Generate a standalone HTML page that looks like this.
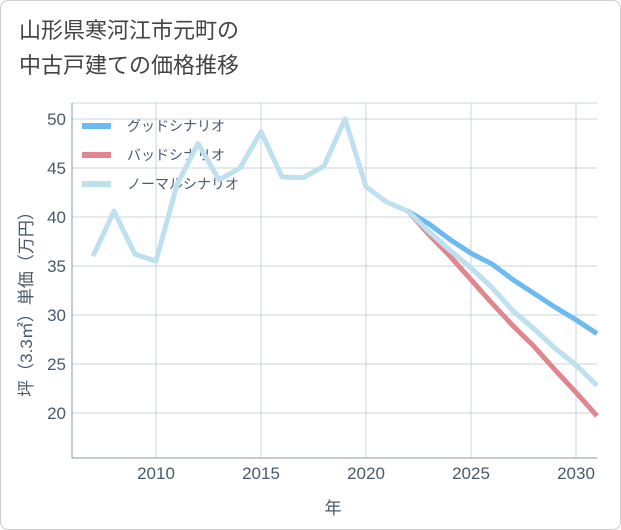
<!DOCTYPE html>
<html><head><meta charset="utf-8"><style>
body{margin:0;background:#fff;}
#wrap{position:relative;width:619px;height:528px;border:1px solid #ccc;border-radius:8px;background:#fff;overflow:hidden;font-family:"Liberation Sans","Noto Sans CJK JP",sans-serif;}
h1{position:absolute;left:18px;top:12px;margin:0;font-size:22px;font-weight:normal;color:#444;line-height:35px;}
</style></head><body>
<div id="wrap">
<h1>山形県寒河江市元町の<br>中古戸建ての価格推移</h1>
<svg id="c" width="621" height="530" style="position:absolute;left:-1px;top:-1px"></svg>
</div>
<script>
const years=[2007,2008,2009,2010,2011,2012,2013,2014,2015,2016,2017,2018,2019,2020,2021,2022,2023,2024,2025,2026,2027,2028,2029,2030,2031];
const normal=[36,40.6,36.2,35.5,43.3,47.5,43.8,45,48.7,44.1,44,45.2,50,43.1,41.5,40.6,38.5,36.6,34.8,32.8,30.4,28.6,26.6,24.9,22.8];
const goodYears=[2022,2023,2024,2025,2026,2027,2028,2029,2030,2031];
const good=[40.6,39.3,37.7,36.3,35.2,33.6,32.2,30.8,29.5,28.1];
const bad=[40.6,38.2,36.0,33.6,31.2,28.9,26.8,24.4,22.1,19.7];
const xTicks=[2010,2015,2020,2025,2030];
const yTicks=[20,25,30,35,40,45,50];
const NS='http://www.w3.org/2000/svg';
const svg=document.getElementById('c');
const X=y=>72+(y-2006)*21;
const Y=v=>119+(50-v)*9.8;
function mk(t,a){const e=document.createElementNS(NS,t);for(const k in a)e.setAttribute(k,a[k]);svg.appendChild(e);return e;}
let e;
for(const t of yTicks){
 e=mk('line',{x1:72,x2:597,y1:Y(t),y2:Y(t),stroke:'#c8d4de','stroke-width':1});
 
 e=mk('text',{x:66,y:Y(t)+6,'text-anchor':'end','font-size':17,fill:'#4a5a6a'});e.textContent=t;
 
}
for(const t of xTicks){
 e=mk('line',{x1:X(t),x2:X(t),y1:103,y2:458,stroke:'#c8d4de','stroke-width':1});
 
 e=mk('text',{x:X(t),y:479,'text-anchor':'middle','font-size':17,fill:'#4a5a6a'});e.textContent=t;
 
}
e=mk('line',{x1:72,x2:597,y1:103,y2:103,stroke:'#c8d4de'});
e=mk('line',{x1:72,x2:72,y1:103,y2:458,stroke:'#8a9aaa'});
e=mk('line',{x1:72,x2:597,y1:458,y2:458,stroke:'#8a9aaa'});
e=mk('text',{x:333,y:514,'text-anchor':'middle','font-size':17,fill:'#4a5a6a'});e.textContent='年';

e=mk('text',{x:0,y:0,'text-anchor':'middle','font-size':17,fill:'#4a5a6a',transform:'translate(32,300) rotate(-90)'});e.textContent='坪（3.3㎡）単価（万円）';

const leg=[['グッドシナリオ','#6cbbf0'],['バッドシナリオ','#e0868f'],['ノーマルシナリオ','#bfe0ee']];
leg.forEach((d,i)=>{
 const y=126+i*29;
 e=mk('line',{x1:82,x2:111,y1:y,y2:y,stroke:d[1],'stroke-width':6});
 
 e=mk('text',{x:127,y:y+5,'font-size':14,fill:'#4a5a6a'});e.textContent=d[0];
 
});
function line(xs,vs,col,name){
 const p=xs.map((x,i)=>X(x)+','+Y(vs[i])).join(' ');
 const l=mk('polyline',{points:p,fill:'none',stroke:col,'stroke-width':5,'stroke-linejoin':'round'});
 
}
line(years,normal,'#bfe0ee','normal-scenario-line');
line(goodYears,good,'#6cbbf0','good-scenario-line');
line(goodYears,bad,'#e0868f','bad-scenario-line');
line(goodYears,normal.slice(15),'#bfe0ee','normal-forecast-line');
</script>
</body></html>
